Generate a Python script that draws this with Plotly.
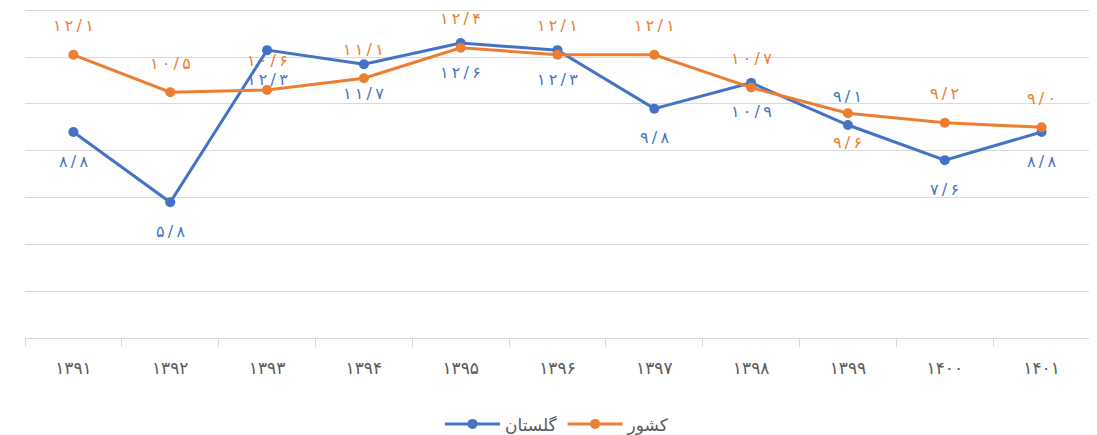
import plotly.graph_objects as go

years = ["۱۳۹۱", "۱۳۹۲", "۱۳۹۳", "۱۳۹۴", "۱۳۹۵", "۱۳۹۶", "۱۳۹۷", "۱۳۹۸", "۱۳۹۹", "۱۴۰۰", "۱۴۰۱"]
golestan = [8.8, 5.8, 12.3, 11.7, 12.6, 12.3, 9.8, 10.9, 9.1, 7.6, 8.8]
keshvar = [12.1, 10.5, 10.6, 11.1, 12.4, 12.1, 12.1, 10.7, 9.6, 9.2, 9.0]
# label side: -1 below the point, +1 above the point
golestan_side = [-1, -1, -1, -1, -1, -1, -1, -1, 1, -1, -1]
keshvar_side = [1, 1, 1, 1, 1, 1, 1, 1, -1, 1, 1]

FA = str.maketrans("0123456789.", "۰۱۲۳۴۵۶۷۸۹/")
def fa(v):
    s = f"{v:.1f}".translate(FA)
    return "\u2009".join(s)

blue = "#4472C4"
orange = "#ED7D31"
font_fa = "DejaVu Sans"

fig = go.Figure()
fig.add_trace(go.Scatter(
    x=years, y=golestan, name="گلستان", mode="lines+markers",
    line=dict(color=blue, width=3), marker=dict(color=blue, size=10),
))
fig.add_trace(go.Scatter(
    x=years, y=keshvar, name="کشور", mode="lines+markers",
    line=dict(color=orange, width=3), marker=dict(color=orange, size=10),
))

annotations = []
for vals, sides, col in ((golestan, golestan_side, blue), (keshvar, keshvar_side, orange)):
    for x, v, s in zip(years, vals, sides):
        annotations.append(dict(
            x=x, y=v, xref="x", yref="y", text=fa(v), showarrow=False,
            yshift=29 * s, font=dict(color=col, size=16, family=font_fa),
        ))

fig.update_layout(
    width=1089, height=427,
    margin=dict(l=17, r=7, t=0, b=97),
    plot_bgcolor="white", paper_bgcolor="white",
    font=dict(family=font_fa, color="#595959"),
    showlegend=True,
    legend=dict(orientation="h", x=0.5, xanchor="center",
                yref="container", y=0.025, yanchor="middle",
                itemwidth=55, tracegroupgap=20,
                font=dict(size=17, color="#595959")),
    annotations=annotations,
    xaxis=dict(
        type="category", range=[-0.5, 10.5], showgrid=False, showline=True,
        linecolor="#d9d9d9", linewidth=1,
        ticks="outside", tickson="boundaries", ticklen=8, tickcolor="#d9d9d9",
        ticklabelstandoff=15,
        tickfont=dict(size=17, color="#595959", family=font_fa),
    ),
    yaxis=dict(
        range=[0, 14.1], tick0=0, dtick=2, showgrid=True, gridcolor="#d9d9d9", gridwidth=1,
        showticklabels=False, zeroline=False, showline=False,
    ),
)

fig.write_html("out.html")
